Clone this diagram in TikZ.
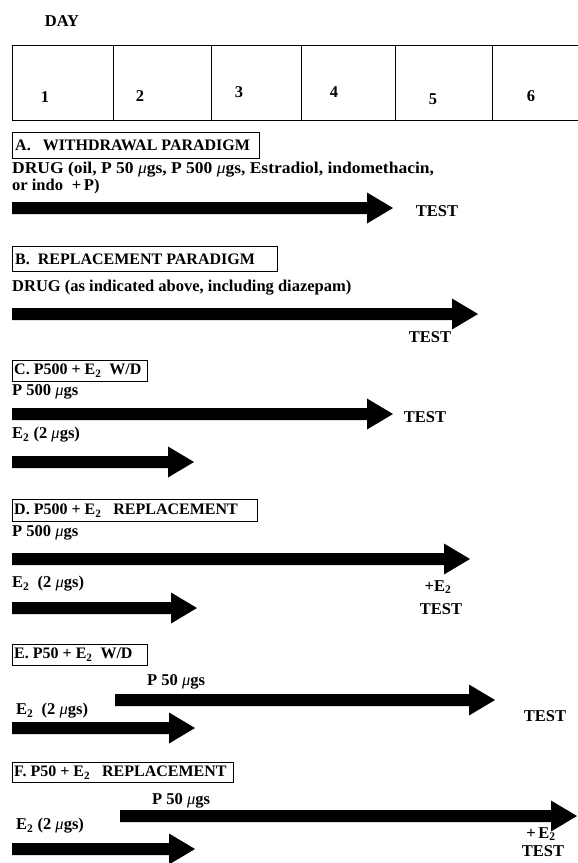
\documentclass[tikz,border=0pt]{standalone}
\usepackage{fontspec}
\usepackage{graphicx}
\setmainfont{Liberation Serif}
\newcommand\fs{\fontsize{16.5}{19}\selectfont\bfseries}
\newcommand\hfs{\fontsize{16}{19}\selectfont\bfseries}
\newcommand\mug{{\itshape\mdseries μ}}
\newcommand\Etwo{E\textsubscript{2}}
\newcommand\tlarrow[4]{%
  \coordinate (#1s) at (#2,#4);
  \coordinate (#1e) at (#3,#4);
  \fill (#2,#4-6) -- (#3-26,#4-6) -- (#3-26,#4-15.5) -- (#3,#4)
        -- (#3-26,#4+15.5) -- (#3-26,#4+6) -- (#2,#4+6) -- cycle;}
\begin{document}
\begin{tikzpicture}[x=1pt,y=-1pt,
  lab/.style={anchor=west, inner sep=0pt, font=\fs},
  cen/.style={anchor=center, inner sep=0pt, font=\fs},
  hbox/.style={draw, line width=0.8pt, anchor=north west, inner sep=0pt},
  htext/.style={anchor=west, inner sep=0pt, font=\hfs},
  grid/.style={line width=0.8pt}]
\useasboundingbox (0,0) rectangle (578,863);
% day table
\node[cen] (day) at (62,21) {DAY};
\draw[grid] (12,45) -- (578,45);
\draw[grid] (12,120) -- (578,120);
\foreach \x in {12,113,211,301,395,492} \draw[grid] (\x,45) -- (\x,120);
\node[cen] (d1) at (45,97) {1};
\node[cen] (d2) at (140,96) {2};
\node[cen] (d3) at (239,92) {3};
\node[cen] (d4) at (334,92) {4};
\node[cen] (d5) at (433,99) {5};
\node[cen] (d6) at (531,96) {6};
% A
\node[hbox, minimum width=247pt, minimum height=26pt] (hA) at (12,132) {};
\node[htext] (tA) at ([xshift=3pt]hA.west) {A.\ \ \ WITHDRAWAL PARADIGM};
\node[lab] (drugA1) at (12,170) {\scalebox{1.06}[1]{DRUG (oil, P 50 \mug gs, P 500 \mug gs, Estradiol, indomethacin,}};
\node[lab] (drugA2) at (12,187) {or indo \;+\,P)};
\tlarrow{aA}{12}{393}{208}
\node[cen] (testA) at (437,211) {TEST};
% B
\node[hbox, minimum width=265pt, minimum height=25pt] (hB) at (12,246) {};
\node[htext] (tB) at ([xshift=3pt]hB.west) {B.\ \ REPLACEMENT PARADIGM};
\node[lab] (drugB) at (12,288) {DRUG (as indicated above, including diazepam)};
\tlarrow{aB}{12}{478}{314}
\node[cen] (testB) at (430,337) {TEST};
% C
\node[hbox, minimum width=135pt, minimum height=21pt] (hC) at (12,360) {};
\node[htext] (tC) at ([xshift=2pt]hC.west) {C. P500 + \Etwo\ \ W/D};
\node[lab] (pC) at (12,392) {P 500 \mug gs};
\tlarrow{aC1}{12}{393}{414}
\node[cen] (testC) at (425,417) {TEST};
\node[lab] (eC) at (12,435) {\Etwo\ (2 \mug gs)};
\tlarrow{aC2}{12}{194}{462}
% D
\node[hbox, minimum width=245pt, minimum height=22pt] (hD) at (12,499) {};
\node[htext] (tD) at ([xshift=2pt]hD.west) {D. P500 + \Etwo\ \ \ REPLACEMENT};
\node[lab] (pD) at (12,533) {P 500 \mug gs};
\tlarrow{aD1}{12}{470}{559}
\node[lab] (eD) at (12,584) {\Etwo\ \ (2 \mug gs)};
\node[cen] (plD) at (438,587) {+\Etwo};
\tlarrow{aD2}{12}{197}{608}
\node[cen] (testD) at (441,609) {TEST};
% E
\node[hbox, minimum width=135pt, minimum height=21pt] (hE) at (12,644) {};
\node[htext] (tE) at ([xshift=2pt]hE.west) {E. P50 + \Etwo\ \ W/D};
\node[lab] (pE) at (147,682) {P 50 \mug gs};
\tlarrow{aE1}{115}{495}{700}
\node[lab] (eE) at (16,711) {\Etwo\ \ (2 \mug gs)};
\node[cen] (testE) at (545,716) {TEST};
\tlarrow{aE2}{12}{195}{728}
% F
\node[hbox, minimum width=221pt, minimum height=20pt] (hF) at (12,762) {};
\node[htext] (tF) at ([xshift=2pt]hF.west) {F. P50 + \Etwo\ \ \ REPLACEMENT};
\node[lab] (pF) at (152,801) {P 50 \mug gs};
\tlarrow{aF1}{120}{577}{816}
\node[lab] (eF) at (16,826) {\Etwo\ (2 \mug gs)};
\node[cen] (plF) at (541,834) {+\,\Etwo};
\node[cen] (testF) at (543,851) {TEST};
\tlarrow{aF2}{12}{195}{849}
\end{tikzpicture}
\end{document}
